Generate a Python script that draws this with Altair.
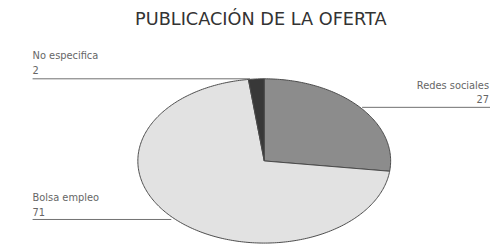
import altair as alt
import numpy as np
import pandas as pd

title_text = "PUBLICACIÓN DE LA OFERTA"
categories = ["Redes sociales", "Bolsa empleo", "No especifica"]
values = [27, 71, 2]
colors = ["#8c8c8c", "#e2e2e2", "#383838"]

# Build elliptical pie slice outlines from the data values
total = sum(values)
rows = []
start = 0.0
for cat, v in zip(categories, values):
    end = start + v / total * 2 * np.pi
    n = max(3, int(np.degrees(end - start))) + 1
    pts = [(0.0, 0.0)] + [(np.sin(t), np.cos(t)) for t in np.linspace(start, end, n)] + [(0.0, 0.0)]
    for i, (x, y) in enumerate(pts):
        rows.append({"categoria": cat, "valor": v, "i": i, "px": x, "py": y})
    start = end
pie_df = pd.DataFrame(rows)
lab_df = pd.DataFrame({"categoria": categories, "valor": values})

xs = alt.Scale(domain=[-1, 1], range=[132, 389])
ys = alt.Scale(domain=[-1, 1], range=[237, 70])

pie = alt.Chart(pie_df).mark_line(
    filled=True, stroke="#4a4a4a", strokeWidth=1, strokeJoin="round"
).encode(
    x=alt.X("px:Q", scale=xs, axis=None),
    y=alt.Y("py:Q", scale=ys, axis=None),
    color=alt.Color("categoria:N", scale=alt.Scale(domain=categories, range=colors), legend=None),
    order=alt.Order("i:Q"),
    detail="categoria:N",
)

title = alt.Chart(pd.DataFrame({"t": [title_text]})).mark_text(
    font="DejaVu Sans", fontSize=18, color="#333333",
    align="center", baseline="alphabetic",
).encode(text="t:N", x=alt.value(257), y=alt.value(15))

lab_style = dict(font="DejaVu Sans", fontSize=10, color="#666666", baseline="alphabetic")

def label_layers(cat, align, x, y_name, y_val, rx1, rx2, ry):
    base = alt.Chart(lab_df).transform_filter(alt.datum.categoria == cat)
    name = base.mark_text(align=align, **lab_style).encode(
        text="categoria:N", x=alt.value(x), y=alt.value(y_name))
    val = base.mark_text(align=align, **lab_style).encode(
        text="valor:Q", x=alt.value(x), y=alt.value(y_val))
    rule = base.mark_rule(color="#6e6e6e", strokeWidth=1).encode(
        x=alt.value(rx1), x2=alt.value(rx2), y=alt.value(ry))
    return [rule, name, val]

layers = [pie, title]
layers += label_layers("No especifica", "left", 25, 50, 65, 25, 246, 70)
layers += label_layers("Bolsa empleo", "left", 25, 194, 209, 25, 166, 213)
layers += label_layers("Redes sociales", "right", 489, 80, 95, 360, 490, 99)

chart = alt.layer(*layers).properties(
    width=490, height=239, padding=0, autosize=alt.AutoSizeParams(type="none")
).configure_view(stroke=None)

chart.save("out.html", embed_options={"renderer": "svg", "actions": False})
